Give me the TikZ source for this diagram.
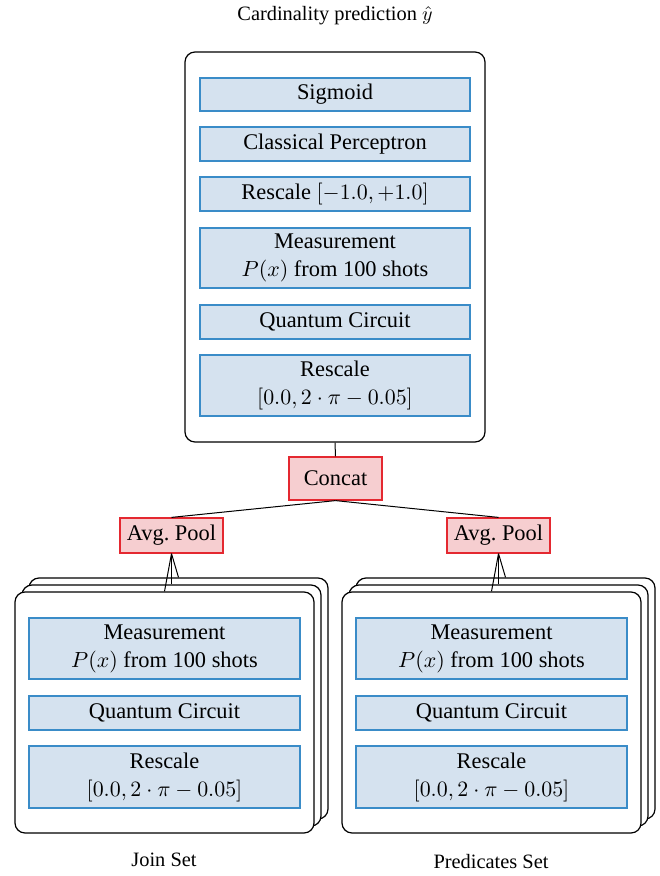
\documentclass[tikz,border=0pt]{standalone}
\usepackage{fontspec}
\setmainfont{Liberation Serif}
\definecolor{layerfill}{RGB}{213,226,239}
\definecolor{layerdraw}{RGB}{58,140,200}
\definecolor{poolfill}{RGB}{246,206,208}
\definecolor{pooldraw}{RGB}{228,40,48}
\tikzset{
  layer/.style={draw=layerdraw, fill=layerfill, line width=0.6pt, inner sep=0pt,
    minimum width=#1, align=center, font=\fontsize{11.2}{14}\selectfont},
  layer/.default=135pt,
  pool/.style={draw=pooldraw, fill=poolfill, line width=0.6pt, inner sep=0pt,
    align=center, font=\fontsize{11.2}{14}\selectfont},
  panel/.style={draw, fill=white, rounded corners=5pt, line width=0.6pt, inner sep=0pt},
  caption/.style={font=\fontsize{10.2}{12}\selectfont},
  link/.style={line width=0.5pt},
}
\begin{document}
\begin{tikzpicture}[x=0.5pt,y=-0.5pt]
\useasboundingbox (0,0) rectangle (659,876);

% output title
\node[caption] (title) at (335,16) {Cardinality prediction $\hat{y}$};

% top model stack
\node[panel, minimum width=150pt, minimum height=195pt] (top) at (335,247) {};
\node[layer, minimum height=16.5pt] (sig) at (335,94.5) {Sigmoid};
\node[layer, minimum height=17pt] (perc) at (335,144) {Classical Perceptron};
\node[layer, minimum height=17pt] (resc1) at (335,194) {Rescale $[-1.0,+1.0]$};
\node[layer, minimum height=30pt] (meas) at (335,258) {Measurement\\$P(x)$ from 100 shots};
\node[layer, minimum height=17pt] (qc) at (335,322) {Quantum Circuit};
\node[layer, minimum height=30.5pt] (resc2) at (335,385.5) {Rescale\\$[0.0, 2\cdot\pi-0.05]$};

% merge and pooling
\node[pool, minimum width=46.5pt, minimum height=21.5pt] (concat) at (335.5,478.5) {Concat};
\node[pool, minimum width=51.5pt, minimum height=17.5pt] (poolL) at (171.5,535.5) {Avg.\ Pool};
\node[pool, minimum width=51.5pt, minimum height=17.5pt] (poolR) at (498.5,535.5) {Avg.\ Pool};

\draw[link] (top.south) -- (concat.north);
\draw[link] (concat.south) -- (poolL.north);
\draw[link] (concat.south) -- (poolR.north);

% join set stack
\node[panel, minimum width=149.5pt, minimum height=120.5pt] (jc) at (178.5,698.5) {};
\node[panel, minimum width=149.5pt, minimum height=120.5pt] (jb) at (171.5,705.5) {};
\node[panel, minimum width=149.5pt, minimum height=120.5pt] (ja) at (164.5,712.5) {};
\node[layer=135.5pt, minimum height=30.5pt] (jmeas) at (164.5,648.5) {Measurement\\$P(x)$ from 100 shots};
\node[layer=135.5pt, minimum height=17pt] (jqc) at (164.5,713) {Quantum Circuit};
\node[layer=135.5pt, minimum height=31pt] (jresc) at (164.5,777) {Rescale\\$[0.0, 2\cdot\pi-0.05]$};
\draw[link] (ja.north) -- (poolL.south);
\draw[link] (jb.north) -- (poolL.south);
\draw[link] (jc.north) -- (poolL.south);
\node[caption] (jlabel) at (164,860) {Join Set};

% predicates set stack
\node[panel, minimum width=149.5pt, minimum height=120.5pt] (pc) at (505.5,698.5) {};
\node[panel, minimum width=149.5pt, minimum height=120.5pt] (pb) at (498.5,705.5) {};
\node[panel, minimum width=149.5pt, minimum height=120.5pt] (pa) at (491.5,712.5) {};
\node[layer=135.5pt, minimum height=30.5pt] (pmeas) at (491.5,648.5) {Measurement\\$P(x)$ from 100 shots};
\node[layer=135.5pt, minimum height=17pt] (pqc) at (491.5,713) {Quantum Circuit};
\node[layer=135.5pt, minimum height=31pt] (presc) at (491.5,777) {Rescale\\$[0.0, 2\cdot\pi-0.05]$};
\draw[link] (pa.north) -- (poolR.south);
\draw[link] (pb.north) -- (poolR.south);
\draw[link] (pc.north) -- (poolR.south);
\node[caption] (plabel) at (491,862) {Predicates Set};
\end{tikzpicture}
\end{document}
